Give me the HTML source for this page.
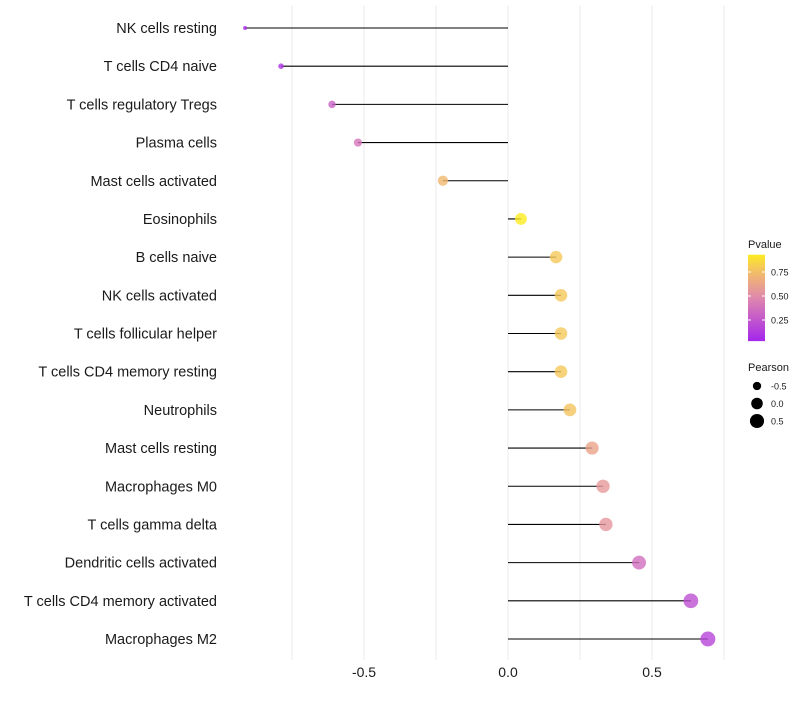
<!DOCTYPE html>
<html><head><meta charset="utf-8"><style>
body{margin:0;background:#fff;font-family:"Liberation Sans",sans-serif}
</style></head><body>
<svg id="chart" width="800" height="700" xmlns="http://www.w3.org/2000/svg" font-family="Liberation Sans, sans-serif"></svg>
<script>
const categories=["NK cells resting","T cells CD4 naive","T cells regulatory  Tregs","Plasma cells","Mast cells activated","Eosinophils","B cells naive","NK cells activated","T cells follicular helper","T cells CD4 memory resting","Neutrophils","Mast cells resting","Macrophages M0","T cells gamma delta","Dendritic cells activated","T cells CD4 memory activated","Macrophages M2"];
const pearson=[-0.913,-0.788,-0.611,-0.521,-0.226,0.045,0.167,0.184,0.184,0.184,0.215,0.292,0.33,0.34,0.455,0.635,0.694];
const pvalue=[0.05,0.1,0.3,0.4,0.72,0.93,0.8,0.8,0.8,0.8,0.78,0.62,0.56,0.55,0.36,0.22,0.17];
const xTicks=[-0.5,0,0.5];
const xTickLabels=["-0.5","0.0","0.5"];
const gridVals=[-0.75,-0.5,-0.25,0,0.25,0.5,0.75];
const pTicks=[0.25,0.5,0.75];
const sizeLegend=[-0.5,0,0.5];

const NS="http://www.w3.org/2000/svg";
const svg=document.getElementById('chart');
function X(v){return 508+v*288;}
function Y(i){return 28+i*(611/16);}
function R(v){return Math.sqrt(Math.max(2,33.6+32.5*v));}
function PY(p){return 344-p*96;}
function col(p){
 const s=[[0,[160,32,240]],[0.5,[226,140,170]],[0.8,[245,200,90]],[1,[255,255,0]]];
 for(let k=0;k<s.length-1;k++){if(p<=s[k+1][0]){const t=(p-s[k][0])/(s[k+1][0]-s[k][0]);const a=s[k][1],b=s[k+1][1];return `rgb(${a.map((c,j)=>Math.round(c+(b[j]-c)*t)).join(',')})`;}}
 return 'rgb(255,255,0)';
}
function mk(t,a,txt){const e=document.createElementNS(NS,t);for(const k in a)e.setAttribute(k,a[k]);if(txt!==undefined)e.textContent=txt;svg.appendChild(e);return e;}
gridVals.forEach(v=>{const e=mk('line',{x1:X(v),x2:X(v),y1:5,y2:660,stroke:'#ebebeb','stroke-width':1});

});
categories.forEach((c,i)=>{
 const y=Y(i);
 const t=mk('text',{x:217,y:y+5,'text-anchor':'end','font-size':14.5,fill:'#1a1a1a'},c);
 
 
 const l=mk('line',{x1:X(0),x2:X(pearson[i]),y1:y,y2:y,stroke:'#000','stroke-width':1.1});
 
 
 const p=mk('circle',{cx:X(pearson[i]),cy:y,r:R(pearson[i]),fill:col(pvalue[i]),'fill-opacity':0.8});
 
 
});
xTicks.forEach((v,i)=>{const t=mk('text',{x:X(v),y:677,'text-anchor':'middle','font-size':14,fill:'#1a1a1a'},xTickLabels[i]);

});
const lt=mk('text',{x:748,y:248,'font-size':11,fill:'#1a1a1a'},'Pvalue');


const defs=mk('defs',{});
const g=document.createElementNS(NS,'linearGradient');g.setAttribute('id','pg');g.setAttribute('x1',0);g.setAttribute('x2',0);g.setAttribute('y1',0);g.setAttribute('y2',1);defs.appendChild(g);
for(let k=0;k<=10;k++){const p=0.93-k*0.09;const s=document.createElementNS(NS,'stop');s.setAttribute('offset',k/10);s.setAttribute('stop-color',col(p));g.appendChild(s);}
const bar=mk('rect',{x:748,y:PY(0.93),width:17,height:PY(0.03)-PY(0.93),fill:'url(#pg)'});


pTicks.forEach(p=>{mk('line',{x1:748,x2:751,y1:PY(p),y2:PY(p),stroke:'#fff'});mk('line',{x1:762,x2:765,y1:PY(p),y2:PY(p),stroke:'#fff'});
const t=mk('text',{x:771,y:PY(p)+3.5,'font-size':9,fill:'#1a1a1a'},p.toFixed(2));

});
const st=mk('text',{x:748,y:371,'font-size':11,fill:'#1a1a1a'},'Pearson');


sizeLegend.forEach((v,i)=>{const y=386+i*17.5;
const c=mk('circle',{cx:757,cy:y,r:R(v),fill:'#000'});


const t=mk('text',{x:771,y:y+3.5,'font-size':9,fill:'#1a1a1a'},v.toFixed(1));

});
</script>
</body></html>
